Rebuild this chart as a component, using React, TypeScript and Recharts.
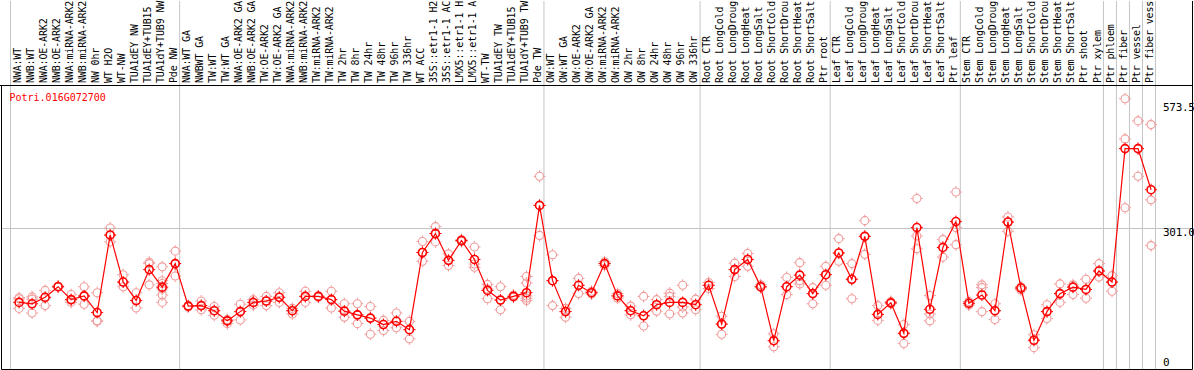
import { ScatterChart, Scatter, XAxis, YAxis, ReferenceLine } from 'recharts';

const GENE_ID = 'Potri.016G072700';

// sample names as printed on the source chart (cut to 14 characters)
const SAMPLE_LABELS = [
  'NWA:WT', 'NWB:WT', 'NWA:OE-ARK2', 'NWB:OE-ARK2', 'NWA:miRNA-ARK2', 'NWB:miRNA-ARK2', 'NW 0hr', 'WT H2O', 'WT-NW',
  'TUA1dEY NW', 'TUA1dEY+TUB15', 'TUA1dY+TUB9 NW', 'Pde NW',
  'NWA:WT GA', 'NWBWT GA', 'TW:WT', 'TW:WT GA', 'NWA:OE-ARK2 GA', 'NWB:OE-ARK2 GA', 'TW:OE-ARK2', 'TW:OE-ARK2 GA',
  'NWA:miRNA-ARK2', 'NWB:miRNA-ARK2', 'TW:miRNA-ARK2', 'TW:miRNA-ARK2', 'TW 2hr', 'TW 8hr', 'TW 24hr', 'TW 48hr',
  'TW 96hr', 'TW 336hr', 'WT ACC', '35S::etr1-1 H2', '35S::etr1-1 AC', 'LMX5::etr1-1 H', 'LMX5::etr1-1 A',
  'WT-TW', 'TUA1dEY TW', 'TUA1dEY+TUB15', 'TUA1dY+TUB9 TW', 'Pde TW',
  'OW:WT', 'OW:WT GA', 'OW:OE-ARK2', 'OW:OE-ARK2 GA', 'OW:miRNA-ARK2', 'OW:miRNA-ARK2', 'OW 2hr', 'OW 8hr',
  'OW 24hr', 'OW 48hr', 'OW 96hr', 'OW 336hr',
  'Root CTR', 'Root LongCold', 'Root LongDroug', 'Root LongHeat', 'Root LongSalt', 'Root ShortCold',
  'Root ShortDrou', 'Root ShortHeat', 'Root ShortSalt', 'Ptr root',
  'Leaf CTR', 'Leaf LongCold', 'Leaf LongDroug', 'Leaf LongHeat', 'Leaf LongSalt', 'Leaf ShortCold',
  'Leaf ShortDrou', 'Leaf ShortHeat', 'Leaf ShortSalt', 'Ptr leaf',
  'Stem CTR', 'Stem LongCold', 'Stem LongDroug', 'Stem LongHeat', 'Stem LongSalt', 'Stem ShortCold',
  'Stem ShortDrou', 'Stem ShortHeat', 'Stem ShortSalt', 'Ptr shoot', 'Ptr xylem',
  'Ptr phloem', 'Ptr fiber', 'Ptr vessel', 'Ptr fiber vess',
];

const MEAN_VALUES = [
  141, 138, 152, 175, 147, 155, 119, 287, 185, 145, 212, 174, 225,
  133, 134, 123, 101, 121, 141, 144, 152, 123, 154, 154, 147, 122, 114, 107, 93, 100, 82,
  249, 290, 232, 275, 234, 167, 146, 154, 162, 351,
  188, 121, 178, 162, 225, 155, 123, 112, 136, 141, 141, 136,
  178, 94, 212, 234, 175, 58, 175, 200, 160, 201,
  248, 191, 284, 115, 140, 74, 303, 126, 260, 316,
  139, 157, 123, 315, 172, 59, 121, 160, 174, 169, 209,
  185, 474, 474, 385,
];

const REPLICATES = [
  [151, 149, 128], [153, 148, 118], [167, 151, 134], [176, 174, 176], [158, 146, 141], [175, 154, 137],
  [162, 101, 100], [302, 286, 272], [201, 185, 175], [162, 145, 129], [228, 225, 179],
  [218, 188, 182, 170, 157, 141], [252, 225, 198],
  [134, 131, 133], [144, 134, 125], [132, 123, 113], [104, 101, 95], [137, 121, 103], [147, 141, 135],
  [154, 144, 134], [162, 152, 141], [128, 123, 116], [165, 154, 141], [155, 154, 152], [165, 147, 129],
  [138, 122, 109], [138, 114, 95], [132, 107, 72], [102, 93, 80], [118, 100, 86], [100, 82, 62],
  [273, 249, 230], [305, 290, 272], [246, 232, 221], [277, 275, 273], [261, 224, 217], [180, 170, 149],
  [175, 146, 125], [157, 154, 152], [197, 183, 155, 150, 145], [414, 351, 286],
  [244, 188, 134], [128, 121, 109], [193, 178, 160], [165, 162, 159], [229, 225, 221], [160, 155, 150],
  [133, 123, 114], [154, 112, 90], [147, 136, 122], [161, 154, 116], [178, 131, 118], [148, 136, 125],
  [184, 178, 171], [111, 94, 72], [226, 212, 197], [247, 234, 219], [179, 175, 173], [73, 58, 45],
  [195, 175, 158], [227, 188, 181], [173, 160, 138], [219, 201, 178],
  [279, 248, 230], [225, 191, 149], [318, 284, 245], [134, 115, 102], [143, 140, 138], [93, 74, 52],
  [366, 285, 257], [156, 116, 101], [277, 260, 239], [380, 303, 266],
  [143, 139, 135], [179, 173, 121], [138, 123, 104], [326, 315, 295], [175, 172, 168], [71, 59, 43],
  [136, 121, 106], [181, 160, 141], [179, 174, 158], [191, 169, 150], [225, 209, 196],
  [199, 185, 165], [582, 495, 346], [534, 474, 414], [526, 363, 264],
];

// column boundaries between tissue groups (in sample units)
const GROUP_EDGES = [0, 13, 41, 53, 63, 73, 84, 85, 86, 87, 88];
const Y_TICKS = [0, 301.0, 573.5];

const W = 1194;
const H = 370;
const X_OFFSET = 0.66;
// plot area is x 0..1193, y 1..370 (axes take 1px each)
const X_DOMAIN: [number, number] = [-0.807, 90.8839];
const Y_DOMAIN: [number, number] = [-5.4136, 793.63];

// frame positions in data units
const LEFT_X = -0.6917;
const RIGHT_X = 90.846;
const TOP_Y = 610.65;
const BOTTOM_Y = -4.331;

const MONO = '"DejaVu Sans Mono", "Liberation Mono", monospace';
const RED = '#ff0000';
const PINK = '#f09a9a';
const GRID = '#c4c4c4';

const meanPoints = MEAN_VALUES.map((v, i) => ({ x: i + X_OFFSET, y: v }));
const repPoints = REPLICATES.flatMap((reps, i) => reps.map((v) => ({ x: i + X_OFFSET, y: v })));
const labelTicks = SAMPLE_LABELS.map((_, i) => i + X_OFFSET);

function ring(cx: number, cy: number, color: string, width: number) {
  const d = `M${cx - 6},${cy}h1.6M${cx + 4.4},${cy}h1.6M${cx},${cy - 6}v1.6M${cx},${cy + 4.4}v1.6`;
  return (
    <g>
      <circle cx={cx} cy={cy} r={4} fill="none" stroke={color} strokeWidth={width} />
      <path d={d} stroke={color} strokeWidth={1} />
    </g>
  );
}

function SampleLabel(props: any) {
  const { x, payload } = props;
  const idx = Math.round(payload.value - X_OFFSET);
  const bx = x + 1.5;
  return (
    <text
      x={bx}
      y={83}
      transform={`rotate(-90 ${bx} 83)`}
      fontSize={10}
      letterSpacing={-0.15}
      fontFamily={MONO}
      fill="#000"
      textAnchor="start"
    >
      {SAMPLE_LABELS[idx]}
    </text>
  );
}

function ValueTick(props: any) {
  const { y, payload } = props;
  const v = payload.value as number;
  const txt = v === 0 ? '0' : v.toFixed(1);
  return (
    <text x={1163} y={v === 0 ? 366 : y + 8} fontSize={11} letterSpacing={-0.3} fontFamily={MONO} fill="#000">
      {txt}
    </text>
  );
}

export default function App() {
  return (
    <div style={{ position: 'absolute', left: 0, top: 0, width: W, height: H, background: '#fff' }}>
      <ScatterChart width={W} height={H} margin={{ top: 0, right: 0, bottom: 0, left: 0 }}>
        <XAxis
          type="number"
          dataKey="x"
          orientation="top"
          height={1}
          domain={X_DOMAIN}
          allowDataOverflow
          ticks={labelTicks}
          interval={0}
          axisLine={false}
          tickLine={false}
          tick={(p: any) => <SampleLabel {...p} />}
        />
        <YAxis
          type="number"
          dataKey="y"
          orientation="right"
          width={1}
          domain={Y_DOMAIN}
          allowDataOverflow
          ticks={Y_TICKS}
          interval={0}
          axisLine={false}
          tickLine={false}
          tick={(p: any) => <ValueTick {...p} />}
        />

        {/* group separators */}
        {GROUP_EDGES.map((g) => (
          <ReferenceLine key={g} x={g} stroke={GRID} strokeWidth={1} ifOverflow="visible" />
        ))}
        <ReferenceLine
          segment={[{ x: LEFT_X, y: 301 }, { x: RIGHT_X, y: 301 }]}
          stroke={GRID}
          ifOverflow="visible"
        />

        {/* frame */}
        <ReferenceLine segment={[{ x: X_DOMAIN[0], y: TOP_Y }, { x: RIGHT_X, y: TOP_Y }]} stroke="#000" ifOverflow="visible" />
        <ReferenceLine segment={[{ x: LEFT_X, y: BOTTOM_Y }, { x: RIGHT_X, y: BOTTOM_Y }]} stroke="#000" ifOverflow="visible" />
        <ReferenceLine segment={[{ x: LEFT_X, y: TOP_Y }, { x: LEFT_X, y: BOTTOM_Y }]} stroke="#000" ifOverflow="visible" />
        <ReferenceLine segment={[{ x: RIGHT_X, y: Y_DOMAIN[1] }, { x: RIGHT_X, y: BOTTOM_Y }]} stroke="#000" ifOverflow="visible" />

        <Scatter
          data={repPoints}
          isAnimationActive={false}
          shape={(p: any) => ring(p.cx, p.cy, PINK, 1.1)}
        />
        <Scatter
          data={meanPoints}
          isAnimationActive={false}
          line={{ stroke: RED, strokeWidth: 1.2 }}
          shape={(p: any) => ring(p.cx, p.cy, RED, 1.6)}
        />
      </ScatterChart>

      <svg width={W} height={H} style={{ position: 'absolute', left: 0, top: 0, pointerEvents: 'none' }}>
        <text x={9.5} y={101} fontSize={10} fontFamily={MONO} fill={RED}>
          {GENE_ID}
        </text>
      </svg>
    </div>
  );
}
